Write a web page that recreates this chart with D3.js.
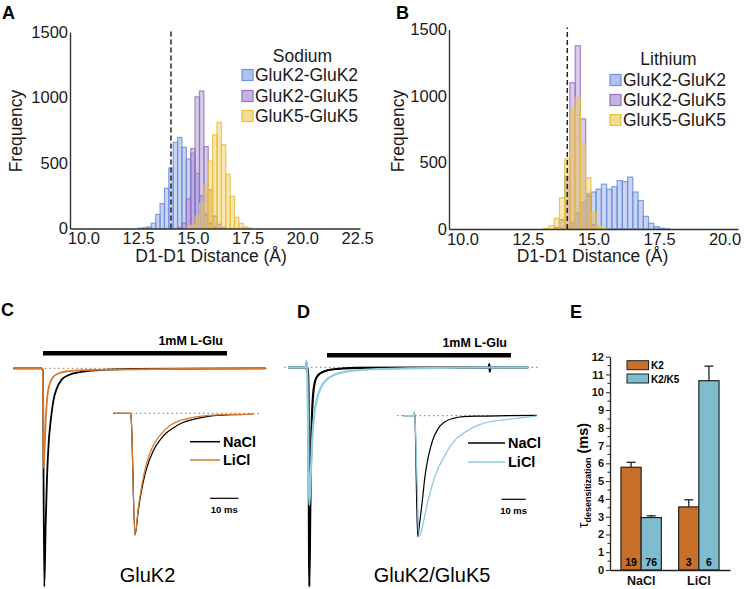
<!DOCTYPE html>
<html>
<head>
<meta charset="utf-8">
<script src="https://cdn.jsdelivr.net/npm/d3@7/dist/d3.min.js"></script>
<style>
  body { margin: 0; background: #fff; }
  svg { font-family: "Liberation Sans", Arial, Helvetica, sans-serif; }
</style>
</head>
<body>
<svg id="fig" width="746" height="589"></svg>
<script>
// ---- histograms (A, B): bin centres in Å, bin width 0.2 ----
var binsNa = [12.6, 12.8, 13.0, 13.2, 13.4, 13.6, 13.8, 14.0, 14.2, 14.4, 14.6, 14.8, 15.0,
              15.2, 15.4, 15.6, 15.8, 16.0, 16.2, 16.4, 16.6, 16.8, 17.0, 17.2, 17.4, 17.6];
var naK2K2 = [3, 5, 12, 40, 107, 190, 307, 462, 657, 695, 620, 530, 575,
              420, 250, 110, 40, 12, 3, 0, 0, 0, 0, 0, 0, 0];
var naK2K5 = [0, 0, 0, 0, 0, 0, 0, 0, 0, 8, 40, 225, 610,
              1005, 1050, 625, 295, 95, 32, 8, 0, 0, 0, 0, 0, 0];
var naK5K5 = [0, 0, 0, 0, 0, 0, 0, 0, 0, 0, 0, 8, 25,
              95, 190, 330, 515, 715, 810, 640, 415, 245, 85, 40, 12, 3];

var binsLi = [13.0, 13.2, 13.4, 13.6, 13.8, 14.0, 14.2, 14.4, 14.6, 14.8, 15.0, 15.2, 15.4,
              15.6, 15.8, 16.0, 16.2, 16.4, 16.6, 16.8, 17.0, 17.2, 17.4, 17.6, 17.8];
var liK2K2 = [0, 0, 0, 0, 5, 15, 45, 120, 200, 265, 278, 300, 337,
              299, 318, 364, 357, 390, 278, 214, 95, 43, 18, 6, 2];
var liK2K5 = [0, 0, 0, 10, 70, 395, 1100, 1378, 828, 250, 35, 5, 0,
              0, 0, 0, 0, 0, 0, 0, 0, 0, 0, 0, 0];
var liK5K5 = [0, 5, 25, 80, 235, 527, 900, 985, 640, 385, 125, 25, 5,
              0, 0, 0, 0, 0, 0, 0, 0, 0, 0, 0, 0];

var pairNames = ["GluK2-GluK2", "GluK2-GluK5", "GluK5-GluK5"];
var xTicksA = [10, 12.5, 15, 17.5, 20, 22.5];
var xTicksB = [10, 12.5, 15, 17.5, 20];
var freqTicks = [0, 500, 1000, 1500];
var cutoff = 14.0;

// ---- current traces (C, D): [time ms, normalised current] ----
var cMainNa = [[0,0],[28.5,0],[29.5,-0.01],[31,-1],[32.4,-0.71],[33.7,-0.5],[35.4,-0.34],[37.4,-0.24],
               [40,-0.15],[43.4,-0.093],[48.4,-0.052],[55,-0.032],[66.7,-0.017],[86.7,-0.008],[120,-0.003],[252,0]];
var cMainLi = [[0,0],[28.4,0],[29.4,-0.006],[30.4,-0.458],[31.4,-0.36],[32.4,-0.237],[34,-0.131],[36,-0.078],
               [39.4,-0.043],[45,-0.024],[53.4,-0.014],[70,-0.008],[252,0]];
var cInsetNa = [[0,0],[5.9,0],[6.25,-0.02],[7.67,-1],[8.83,-0.8],[10,-0.63],[11.8,-0.45],[14.1,-0.31],
                [16.5,-0.22],[18.8,-0.16],[21.2,-0.12],[24.2,-0.08],[28.3,-0.05],[33,-0.027],[40.1,-0.014],[49.5,-0.008]];
var cInsetLi = [[0,0],[5.9,0],[6.25,-0.02],[7.67,-1],[8.83,-0.78],[10,-0.6],[11.8,-0.41],[13.5,-0.296],
                [15.3,-0.219],[17.7,-0.151],[20,-0.101],[24.2,-0.055],[28.3,-0.033],[33,-0.019],[40.1,-0.011],[49.5,-0.008]];
var dMainNa = [[-2,0],[16,0],[16.4,0.02],[16.8,-0.015],[18.3,-0.005],[19.3,-1],[20.3,-0.635],[21.3,-0.33],
               [22.7,-0.15],[25,-0.065],[28.3,-0.035],[33.3,-0.02],[43.3,-0.009],[66.7,-0.003],[198.8,0],
               [199.3,0.015],[199.8,-0.02],[200.3,0],[238.3,0]];
var dMainLi = [[-2,0],[16,0],[16.5,0.03],[17.2,-0.01],[19.3,-0.628],[20.7,-0.5],[22,-0.347],[24,-0.225],
               [26.7,-0.149],[31.7,-0.085],[38.3,-0.05],[46.7,-0.03],[60,-0.017],[83.3,-0.009],[116.7,-0.005],
               [166.7,-0.002],[238.3,0]];
var dInsetNa = [[2.6,0],[7,0],[7.14,0.02],[7.4,-0.02],[8.5,-1],[9.47,-0.862],[10.6,-0.669],[11.5,-0.504],
                [12.9,-0.339],[14.7,-0.201],[17,-0.105],[19.75,-0.05],[23.2,-0.022],[27.3,-0.008],[34.2,-0.003],
                [45.1,0],[57.5,0.003]];
var dInsetLi = [[2.6,0],[7,0],[7.14,0.035],[7.4,-0.02],[9.2,-1],[10.6,-0.904],[12.2,-0.752],[14.3,-0.587],
                [16.3,-0.463],[19.07,-0.353],[21.8,-0.256],[24.6,-0.187],[27.3,-0.146],[31.4,-0.096],[35.5,-0.063],
                [41,-0.041],[49.3,-0.022],[57.5,-0.003]];
var gluWindowC = [29.7, 213.7];
var gluWindowD = [37, 221];

// ---- bar chart (E) ----
var ionGroups = ["NaCl", "LiCl"];
var receptors = ["K2", "K2/K5"];
var tauK2 = [5.78, 3.55];
var tauK2K5 = [2.95, 10.65];
var semK2 = [0.28, 0.4];
var semK2K5 = [0.1, 0.82];
var nK2 = [19, 3];
var nK2K5 = [76, 6];
var tauTicks = [0, 1, 2, 3, 4, 5, 6, 7, 8, 9, 10, 11, 12];

var svg = d3.select("#fig");
var FONT = "'Liberation Sans', Arial, Helvetica, sans-serif";
var pairColors = ["#6f8fdc", "#9873c4", "#ebbf3c"];
var naColor = "#000000";
var liK2Color = "#d9782a";
var liK5Color = "#8ecbe0";
var barColors = ["#c8702a", "#80bcd0"];

function panelLetter(t, x, y) {
    svg.append("text").attr("x", x).attr("y", y).text(t)
        .attr("font-size", 18).attr("font-weight", "bold").attr("fill", "#000");
}

function histPanel(o) {
    var g = svg.append("g");
    var x = d3.scaleLinear().domain(o.xDomain).range(o.xRange);
    var y = d3.scaleLinear().domain([0, 1500]).range(o.yRange);
    var bw = 0.2;

    o.series.forEach(function(vals, k) {
        g.append("g").selectAll("rect")
            .data(o.bins.map(function(b, i) { return [b, vals[i]]; }).filter(function(d) { return d[1] > 0; }))
            .join("rect")
            .attr("x", function(d) { return x(d[0] - bw / 2); })
            .attr("width", function(d) { return x(d[0] + bw / 2) - x(d[0] - bw / 2); })
            .attr("y", function(d) { return y(d[1]); })
            .attr("height", function(d) { return y(0) - y(d[1]); })
            .attr("fill", pairColors[k]).attr("fill-opacity", 0.38)
            .attr("stroke", pairColors[k]).attr("stroke-opacity", 0.85).attr("stroke-width", 1.2);
    });

    // cutoff line
    g.append("line")
        .attr("x1", x(cutoff)).attr("x2", x(cutoff))
        .attr("y1", y(0)).attr("y2", y(1515))
        .attr("stroke", "#222").attr("stroke-width", 1.5).attr("stroke-dasharray", "5,3");

    var xa = g.append("g").attr("transform", "translate(0," + y(0) + ")")
        .call(d3.axisBottom(x).tickValues(o.xTicks).tickFormat(d3.format(".1f")).tickSize(0).tickPadding(4));
    var ya = g.append("g").attr("transform", "translate(" + o.xRange[0] + ",0)")
        .call(d3.axisLeft(y).tickValues(freqTicks).tickFormat(d3.format("d")).tickSize(0).tickPadding(2));
    [xa, ya].forEach(function(a) {
        a.attr("font-family", FONT).attr("font-size", 16.5);
        a.select(".domain").attr("stroke", "#333").attr("stroke-width", 1.4);
        a.selectAll("text").attr("fill", "#1a1a1a");
    });

    g.append("text").attr("x", o.xLabelX).attr("y", 262).attr("text-anchor", "middle")
        .attr("font-size", 17.5).attr("fill", "#1a1a1a").text("D1-D1 Distance (Å)");
    g.append("text").attr("transform", "translate(" + o.freqX + ",131) rotate(-90)")
        .attr("text-anchor", "middle").attr("font-size", 17.5).attr("fill", "#1a1a1a").text("Frequency");

    // legend
    g.append("text").attr("x", o.titleX).attr("y", o.titleY).attr("text-anchor", "middle")
        .attr("font-size", 17.5).attr("fill", "#1a1a1a").text(o.title);
    pairNames.forEach(function(name, k) {
        var cy = o.legY[k];
        g.append("rect").attr("x", o.legX).attr("y", cy - 5.5).attr("width", 11).attr("height", 11)
            .attr("fill", pairColors[k]).attr("fill-opacity", 0.55)
            .attr("stroke", pairColors[k]).attr("stroke-width", 1.2);
        g.append("text").attr("x", o.legX + 13).attr("y", cy + 6).attr("font-size", 17.5)
            .attr("fill", "#1a1a1a").text(name);
    });
}

histPanel({ bins: binsNa, series: [naK2K2, naK2K5, naK5K5], xTicks: xTicksA,
    xDomain: [9.388, 22.63], xRange: [70, 360], yRange: [228.5, 32],
    xLabelX: 211, freqX: 22, title: "Sodium", titleX: 302.5, titleY: 62,
    legX: 242, legY: [75, 96, 116] });
histPanel({ bins: binsLi, series: [liK2K2, liK2K5, liK5K5], xTicks: xTicksB,
    xDomain: [9.485, 20.515], xRange: [449, 738], yRange: [229, 29.5],
    xLabelX: 592.5, freqX: 404, title: "Lithium", titleX: 668.5, titleY: 65,
    legX: 610, legY: [80, 100, 120] });
panelLetter("A", 2, 19);
panelLetter("B", 396, 19);

// ---- traces ----
function tracePanel(o) {
    var g = svg.append("g");
    var xm = d3.scaleLinear().domain(o.mainX).range(o.mainXR);
    var ym = d3.scaleLinear().domain([-1, 0]).range(o.mainYR);
    var xi = d3.scaleLinear().domain(o.insetX).range(o.insetXR);
    var yi = d3.scaleLinear().domain([-1, 0]).range(o.insetYR);
    var lineM = d3.line().x(function(d) { return xm(d[0]); }).y(function(d) { return ym(d[1]); }).curve(d3.curveMonotoneX);
    var lineI = d3.line().x(function(d) { return xi(d[0]); }).y(function(d) { return yi(d[1]); }).curve(d3.curveMonotoneX);

    // glutamate application bar
    g.append("rect").attr("x", xm(o.glu[0])).attr("width", xm(o.glu[1]) - xm(o.glu[0]))
        .attr("y", o.gluY).attr("height", 4.5).attr("fill", "#000");
    g.append("text").attr("x", xm(o.glu[1]) - 4).attr("y", o.gluY - 6).attr("text-anchor", "end")
        .attr("font-size", 12.5).attr("font-weight", "bold").text("1mM L-Glu");

    // zero-current references
    g.append("line").attr("x1", xm(o.mainDot[0])).attr("x2", xm(o.mainDot[1]))
        .attr("y1", ym(0)).attr("y2", ym(0))
        .attr("stroke", "#777").attr("stroke-width", 1).attr("stroke-dasharray", "1.5,3");
    g.append("line").attr("x1", xi(o.insetDot[0])).attr("x2", xi(o.insetDot[1]))
        .attr("y1", yi(0)).attr("y2", yi(0))
        .attr("stroke", "#777").attr("stroke-width", 1).attr("stroke-dasharray", "1.5,3");

    g.append("path").datum(o.mainNa).attr("d", lineM).attr("fill", "none")
        .attr("stroke", naColor).attr("stroke-width", o.mainW);
    g.append("path").datum(o.mainLi).attr("d", lineM).attr("fill", "none")
        .attr("stroke", o.liColor).attr("stroke-width", o.mainW);
    g.append("path").datum(o.insetNa).attr("d", lineI).attr("fill", "none")
        .attr("stroke", naColor).attr("stroke-width", 1.2);
    g.append("path").datum(o.insetLi).attr("d", lineI).attr("fill", "none")
        .attr("stroke", o.liColor).attr("stroke-width", 1.3);

    // legend
    [["NaCl", naColor], ["LiCl", o.liColor]].forEach(function(e, k) {
        var cy = o.legY[k];
        g.append("line").attr("x1", o.legX).attr("x2", o.legX + o.legLen).attr("y1", cy).attr("y2", cy)
            .attr("stroke", e[1]).attr("stroke-width", 1.5);
        g.append("text").attr("x", o.legX + o.legLen + 3).attr("y", cy + 5).attr("font-size", 14.5)
            .attr("font-weight", "bold").text(e[0]);
    });

    // 10 ms scale bar
    g.append("line").attr("x1", xi(o.scaleAt)).attr("x2", xi(o.scaleAt + 10))
        .attr("y1", o.scaleY).attr("y2", o.scaleY).attr("stroke", "#000").attr("stroke-width", 1.2);
    g.append("text").attr("x", xi(o.scaleAt + 5)).attr("y", o.scaleY + 15).attr("text-anchor", "middle")
        .attr("font-size", 9.5).attr("font-weight", "bold").text("10 ms");

    g.append("text").attr("x", o.nameX).attr("y", 582).attr("text-anchor", "middle")
        .attr("font-size", 20).text(o.name);
}

tracePanel({ mainX: [0, 252], mainXR: [13.3, 265.3], mainYR: [586.7, 368.3],
    insetX: [0, 49.5], insetXR: [113.3, 253.4], insetYR: [535, 413.3],
    glu: gluWindowC, gluY: 351, mainDot: [0, 254], insetDot: [-0.1, 51.5],
    mainNa: cMainNa, mainLi: cMainLi, insetNa: cInsetNa, insetLi: cInsetLi, liColor: liK2Color, mainW: 1.8,
    legX: 190, legLen: 30, legY: [441.7, 460], scaleAt: 34.2, scaleY: 498.3,
    name: "GluK2", nameX: 147.5 });
tracePanel({ mainX: [0, 238.3], mainXR: [290, 528.3], mainYR: [586.7, 367.3],
    insetX: [0, 57.5], insetXR: [397, 536.7], insetYR: [536.7, 415.7],
    glu: gluWindowD, gluY: 353, mainDot: [-6, 248], insetDot: [0, 57.5],
    mainNa: dMainNa, mainLi: dMainLi, insetNa: dInsetNa, insetLi: dInsetLi, liColor: liK5Color, mainW: 2.2,
    legX: 468, legLen: 37, legY: [443, 462], scaleAt: 43, scaleY: 499.3,
    name: "GluK2/GluK5", nameX: 432 });
panelLetter("C", 1, 316);
panelLetter("D", 297, 318);

// ---- bar chart E ----
(function() {
    var g = svg.append("g");
    var x = d3.scaleBand().domain(ionGroups).range([610, 730]).paddingInner(0.3).paddingOuter(0.19);
    var xs = d3.scaleBand().domain(receptors).range([0, x.bandwidth()]);
    var y = d3.scaleLinear().domain([0, 12]).range([570, 356.7]);

    var rows = [];
    ionGroups.forEach(function(ion, i) {
        rows.push({ ion: ion, r: "K2", v: tauK2[i], e: semK2[i], n: nK2[i], c: barColors[0] });
        rows.push({ ion: ion, r: "K2/K5", v: tauK2K5[i], e: semK2K5[i], n: nK2K5[i], c: barColors[1] });
    });
    rows.forEach(function(d) {
        var bx = x(d.ion) + xs(d.r), w = xs.bandwidth(), cx = bx + w / 2;
        g.append("line").attr("x1", cx).attr("x2", cx).attr("y1", y(d.v)).attr("y2", y(d.v + d.e))
            .attr("stroke", "#222").attr("stroke-width", 1.3);
        g.append("line").attr("x1", cx - 4.5).attr("x2", cx + 4.5).attr("y1", y(d.v + d.e)).attr("y2", y(d.v + d.e))
            .attr("stroke", "#222").attr("stroke-width", 1.3);
        g.append("rect").attr("x", bx).attr("width", w).attr("y", y(d.v)).attr("height", y(0) - y(d.v))
            .attr("fill", d.c).attr("stroke", "#222").attr("stroke-width", 1.2);
        g.append("text").attr("x", cx).attr("y", 566).attr("text-anchor", "middle")
            .attr("font-size", 10.5).attr("font-weight", "bold").text(d.n);
    });

    var ya = g.append("g").attr("transform", "translate(610,0)")
        .call(d3.axisLeft(y).tickValues(tauTicks).tickSize(4).tickSizeOuter(0).tickPadding(2));
    g.append("g").attr("transform", "translate(610,0)")
        .selectAll("line").data(d3.range(0.5, 12, 1)).join("line")
        .attr("x1", -2.5).attr("x2", 0).attr("y1", function(d) { return y(d); }).attr("y2", function(d) { return y(d); })
        .attr("stroke", "#222");
    var xa = g.append("g").attr("transform", "translate(0,570)")
        .call(d3.axisBottom(x).tickSize(0).tickPadding(6));
    [ya, xa].forEach(function(a) {
        a.attr("font-family", FONT).attr("font-weight", "bold");
        a.select(".domain").attr("stroke", "#222").attr("stroke-width", 1.3);
        a.selectAll(".tick line").attr("stroke", "#222");
        a.selectAll("text").attr("fill", "#111");
    });
    ya.attr("font-size", 11);
    xa.attr("font-size", 12.5);

    var lab = g.append("text").attr("transform", "translate(588,475.5) rotate(-90)").attr("text-anchor", "middle");
    lab.append("tspan").attr("font-size", 14).text("τ");
    lab.append("tspan").attr("font-size", 9).attr("font-weight", "bold").attr("dy", 3).text("desensitization");
    lab.append("tspan").attr("font-size", 14.5).attr("font-weight", "bold").attr("dy", -3).text(" (ms)");

    receptors.forEach(function(r, k) {
        var top = [360.7, 374][k];
        g.append("rect").attr("x", 627).attr("y", top).attr("width", 21.5).attr("height", 9)
            .attr("fill", barColors[k]).attr("stroke", "#222").attr("stroke-width", 1);
        g.append("text").attr("x", 651).attr("y", top + 8.5).attr("font-size", 10)
            .attr("font-weight", "bold").text(r);
    });
})();
panelLetter("E", 570, 318);
</script>
</body>
</html>
